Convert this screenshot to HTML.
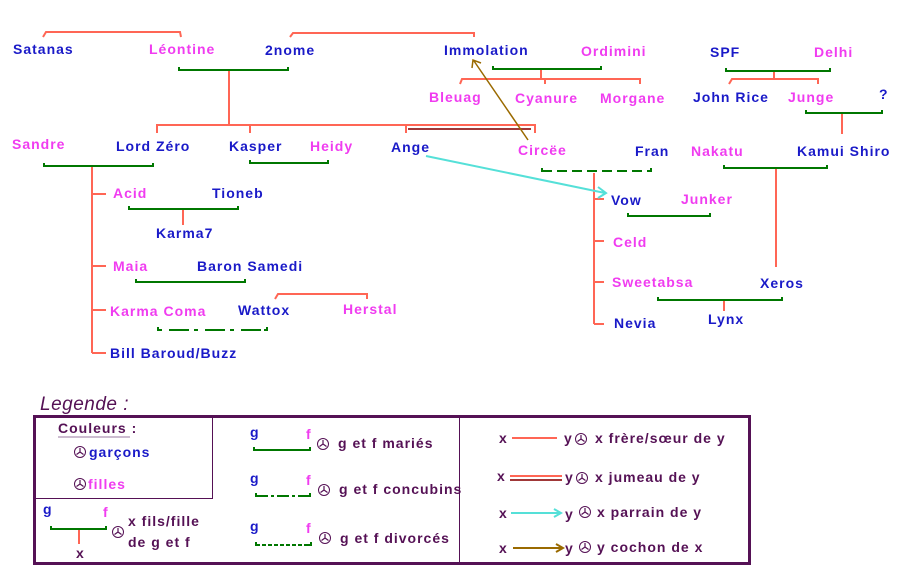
<!DOCTYPE html>
<html><head><meta charset="utf-8"><style>
html,body{margin:0;padding:0;background:#fff;width:902px;height:578px;overflow:hidden}
svg text{font-family:"Liberation Sans","DejaVu Sans",sans-serif;font-weight:bold;font-size:14px;letter-spacing:1px}
.b{fill:#1a1ac8}.p{fill:#f03cf0}.u{fill:#551155}
</style></head><body>
<svg width="902" height="578" viewBox="0 0 902 578" xmlns="http://www.w3.org/2000/svg">
<defs>
<g id="sym"><circle cx="0" cy="0" r="5.5" fill="none" stroke="#551155" stroke-width="1"/><path d="M0 0V-4M0 0L3.5 2.5M0 0L-3.5 2.5" stroke="#551155" stroke-width="1.2"/></g>
</defs>
<g fill="none" stroke-width="2">
<g stroke="#ff6655">
<path d="M43 37L46 32H180L181 37"/>
<path d="M290 37L293 33H474V37"/>
<path d="M229 71V125M157 133V125H535V133M250 125V133M406 125V133"/>
<path d="M541 69V79M460 84L462 79H640V84M545 79V84"/>
<path d="M774 71V79M729 84L732 79H818V84"/>
<path d="M842 113V134"/>
<path d="M92 166V353M92 194H106M92 266H106M92 310H106M92 353H106"/>
<path d="M183 209V225"/>
<path d="M275 299L278 294H367V299"/>
<path d="M594 171V324M594 199H604M594 241H604M594 282H604M594 324H604"/>
<path d="M776 168V267"/>
<path d="M724 300V311"/>
</g>
<path d="M408 129H531" stroke="#a03838"/>
<g stroke="#007700">
<path d="M179 67V70H288V67"/>
<path d="M493 66V69H601V66"/>
<path d="M726 68V71H830V68"/>
<path d="M806 110V113H882V110"/>
<path d="M44 163V166H153V163"/>
<path d="M250 160V163H328V160"/>
<path d="M724 165V168H827V165"/>
<path d="M129 206V209H238V206"/>
<path d="M136 279V282H245V279"/>
<path d="M628 213V216H710V213"/>
<path d="M658 297V300H782V297"/>
<path d="M542 168V171H651V168"/>
</g>
<rect x="546" y="169" width="103" height="4" fill="#fff" stroke="none"/>
<path d="M542 171H651" stroke="#007700" stroke-dasharray="10 5"/>
<path d="M158 327V330H267V327" stroke="#007700"/>
<rect x="162" y="328" width="102" height="4" fill="#fff" stroke="none"/>
<path d="M158 330H267" stroke="#007700" stroke-dasharray="4 7 20 5"/>
<path d="M426 156L605 193M598 187L606 193L598 198" stroke="#55e0d8"/>
<path d="M528 140L474 61M472 68L473 60L481 63" stroke="#9a6a00" stroke-width="1.5"/>
</g>
<text class="b" x="13" y="54">Satanas</text>
<text class="p" x="149" y="54">Léontine</text>
<text class="b" x="265" y="55">2nome</text>
<text class="b" x="444" y="55">Immolation</text>
<text class="p" x="581" y="56">Ordimini</text>
<text class="b" x="710" y="57">SPF</text>
<text class="p" x="814" y="57">Delhi</text>
<text class="p" x="429" y="102">Bleuag</text>
<text class="p" x="515" y="103">Cyanure</text>
<text class="p" x="600" y="103">Morgane</text>
<text class="b" x="693" y="102">John Rice</text>
<text class="p" x="788" y="102">Junge</text>
<text class="b" x="879" y="99">?</text>
<text class="p" x="12" y="149">Sandre</text>
<text class="b" x="116" y="151">Lord Zéro</text>
<text class="b" x="229" y="151">Kasper</text>
<text class="p" x="310" y="151">Heidy</text>
<text class="b" x="391" y="152">Ange</text>
<text class="p" x="518" y="155">Circëe</text>
<text class="b" x="635" y="156">Fran</text>
<text class="p" x="691" y="156">Nakatu</text>
<text class="b" x="797" y="156">Kamui Shiro</text>
<text class="p" x="113" y="198">Acid</text>
<text class="b" x="212" y="198">Tioneb</text>
<text class="b" x="156" y="238">Karma7</text>
<text class="p" x="113" y="271">Maia</text>
<text class="b" x="197" y="271">Baron Samedi</text>
<text class="p" x="110" y="316">Karma Coma</text>
<text class="b" x="238" y="315">Wattox</text>
<text class="p" x="343" y="314">Herstal</text>
<text class="b" x="110" y="358">Bill Baroud/Buzz</text>
<text class="b" x="611" y="205">Vow</text>
<text class="p" x="681" y="204">Junker</text>
<text class="p" x="613" y="247">Celd</text>
<text class="p" x="612" y="287">Sweetabsa</text>
<text class="b" x="760" y="288">Xeros</text>
<text class="b" x="614" y="328">Nevia</text>
<text class="b" x="708" y="324">Lynx</text>
<text class="u" x="40" y="410" style="font-size:19px;font-style:italic;font-weight:normal;letter-spacing:0.5px">Legende :</text>
<rect x="34.5" y="416.5" width="715" height="147" fill="none" stroke="#551155" stroke-width="3"/>
<path d="M35 498.5H212.5V417M459.5 417V563" stroke="#551155" stroke-width="1" fill="none"/>
<text class="u" x="58" y="433">Couleurs :</text>
<path d="M58 437H130" stroke="#9a7aa0" stroke-width="1"/>
<use href="#sym" x="80" y="452"/><text class="b" x="89" y="457">garçons</text>
<use href="#sym" x="80" y="484"/><text class="p" x="88" y="489">filles</text>
<text class="b" x="43" y="514">g</text><text class="p" x="103" y="517">f</text>
<path d="M51 526V529H106V526" stroke="#007700" stroke-width="2" fill="none"/>
<path d="M79 530V544" stroke="#ff6655" stroke-width="2"/>
<text class="u" x="76" y="558">x</text>
<use href="#sym" x="118" y="532"/>
<text class="u" x="128" y="526">x fils/fille</text>
<text class="u" x="128" y="547">de g et f</text>
<text class="b" x="250" y="437">g</text><text class="p" x="306" y="439">f</text>
<path d="M254 447V450H310V447" stroke="#007700" stroke-width="2" fill="none"/>
<use href="#sym" x="323" y="444"/><text class="u" x="338" y="448">g et f mariés</text>
<text class="b" x="250" y="483">g</text><text class="p" x="306" y="485">f</text>
<path d="M256 493V496H310V493" stroke="#007700" stroke-width="2" fill="none"/>
<rect x="259" y="494" width="48" height="4" fill="#fff"/>
<path d="M256 496H310" stroke="#007700" stroke-width="2" stroke-dasharray="12 3 3 3"/>
<use href="#sym" x="324" y="490"/><text class="u" x="339" y="494">g et f concubins</text>
<text class="b" x="250" y="531">g</text><text class="p" x="306" y="533">f</text>
<path d="M256 542V545H311V542" stroke="#007700" stroke-width="2" fill="none"/>
<rect x="259" y="543" width="49" height="4" fill="#fff"/>
<path d="M256 545H311" stroke="#007700" stroke-width="2" stroke-dasharray="4 2"/>
<use href="#sym" x="325" y="538"/><text class="u" x="340" y="543">g et f divorcés</text>
<text class="u" x="499" y="443">x</text>
<path d="M512 438H557" stroke="#ff6655" stroke-width="2"/>
<text class="u" x="564" y="443">y</text><use href="#sym" x="581" y="439"/>
<text class="u" x="595" y="443">x frère/sœur de y</text>
<text class="u" x="497" y="481">x</text>
<path d="M510 476H562" stroke="#ff6655" stroke-width="2"/><path d="M510 480H562" stroke="#a03838" stroke-width="2"/>
<text class="u" x="565" y="482">y</text><use href="#sym" x="582" y="478"/>
<text class="u" x="595" y="482">x jumeau de y</text>
<text class="u" x="499" y="518">x</text>
<path d="M511 513H560M554 509L561 513L554 517" stroke="#55e0d8" stroke-width="2" fill="none"/>
<text class="u" x="565" y="519">y</text><use href="#sym" x="585" y="512"/>
<text class="u" x="597" y="517">x parrain de y</text>
<text class="u" x="499" y="553">x</text>
<path d="M513 548H562M556 544L563 548L556 552" stroke="#9a6a00" stroke-width="2" fill="none"/>
<text class="u" x="565" y="553">y</text><use href="#sym" x="585" y="547"/>
<text class="u" x="597" y="552">y cochon de x</text>
</svg>
</body></html>
